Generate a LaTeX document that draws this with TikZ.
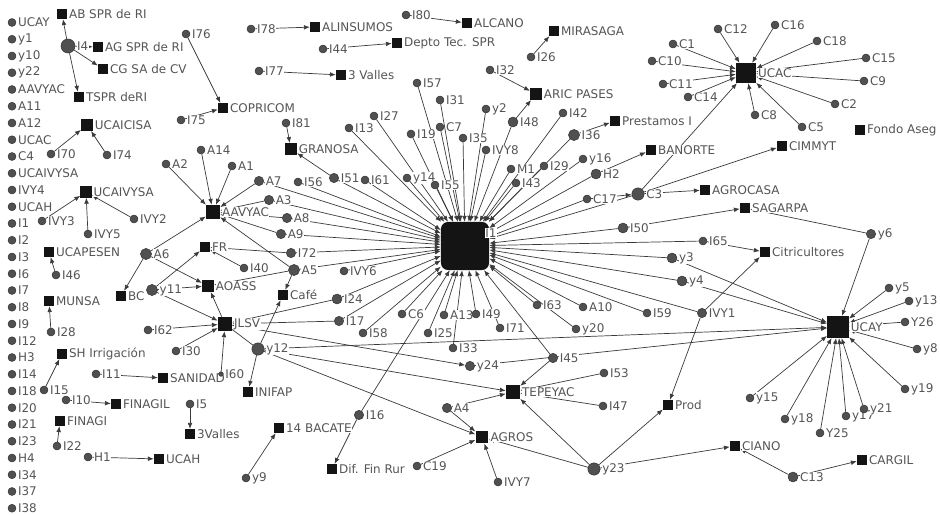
\documentclass[tikz,border=0pt]{standalone}
\usepackage{fontspec}
\setmainfont{DejaVu Sans}
\usetikzlibrary{arrows.meta,backgrounds}
\definecolor{nd}{HTML}{505050}
\definecolor{ndd}{HTML}{303030}
\definecolor{ln}{HTML}{3A3A3A}
\definecolor{txt}{HTML}{555555}
\tikzset{
  act/.style={circle,fill=nd,draw=ndd,line width=0.4pt,inner sep=0pt,minimum size=6.8pt},
  bigact/.style={act,minimum size=9.5pt},
  org/.style={rectangle,fill=black!92,inner sep=0pt,minimum size=8.5pt},
  ar/.style={-{Latex[length=5pt,width=4pt]},draw=ln,line width=0.6pt},
  plain/.style={draw=ln,line width=0.6pt},
  every label/.style={font=\fontsize{10.2}{11}\selectfont,text=txt,fill=white,inner sep=0.4pt},
}

\begin{document}
\begin{tikzpicture}[x=0.3mm,y=-0.3mm,label distance=1pt]
\useasboundingbox (0,0) rectangle (940,514);
\foreach \lab [count=\i from 0] in {UCAY,y1,y10,y22,AAVYAC,A11,A12,UCAC,C4,UCAIVYSA,IVY4,UCAH,I1,I2,I3,I6,I7,I8,I9,I12,H3,I14,I18,I20,I21,I23,H4,I34,I37,I38}
  \node[act,label=right:\lab] (iso\i) at (12,{22.5+16.75*\i}) {};

\node[org,minimum size=41pt,rounded corners=6pt,label={[xshift=-5pt,yshift=11pt]right:I1}] (hub) at (465,246) {};
\node[org,minimum size=17pt,label=right:UCAC] (ucac) at (746,73) {};
\node[org,minimum size=18.5pt,label=right:UCAY] (ucay) at (838,327) {};

\node[org,label=right:AB SPR de RI] (abspr) at (62,14) {};
\node[org,label=right:AG SPR de RI] (agspr) at (98,47) {};
\node[org,label=right:CG SA de CV] (cgsa) at (103,69) {};
\node[org,label=right:TSPR deRI] (tspr) at (79,97) {};
\node[org,label=right:COPRICOM] (copricom) at (223,108) {};
\node[org,minimum size=10pt,label=right:UCAICISA] (ucaicisa) at (87,125) {};
\node[org,minimum size=9.5pt,label=right:UCAIVYSA] (ucaivysa) at (86,192) {};
\node[org,label=right:UCAPESEN] (ucapesen) at (49,252) {};
\node[org,label=right:MUNSA] (munsa) at (49,301) {};
\node[org,label=right:BC] (bc) at (121,296) {};
\node[org,label=right:FR] (fr) at (205,247) {};
\node[org,minimum size=10pt,label=right:AOASS] (aoass) at (208,286) {};
\node[org,minimum size=12pt,label=right:JLSV] (jlsv) at (225,324) {};
\node[org,label=right:SH Irrigación] (shirr) at (62,354) {};
\node[org,label=right:SANIDAD] (sanidad) at (163,378) {};
\node[org,label=right:FINAGIL] (finagil) at (116,404) {};
\node[org,label=right:FINAGI] (finagi) at (60,421) {};
\node[org,label=right:UCAH] (ucah) at (159,459) {};
\node[org,label=right:3Valles] (valles) at (190,434) {};
\node[org,label=right:INIFAP] (inifap) at (248,392) {};
\node[org,label=right:14 BACATE] (bacate) at (279,428) {};
\node[org,label=right:Dif. Fin Rur] (difin) at (332,469) {};
\node[org,label=right:Café] (cafe) at (283,295) {};
\node[org,minimum size=12pt,label=right:AAVYAC] (aavyac) at (213,212) {};
\node[org,minimum size=10pt,label=right:GRANOSA] (granosa) at (291,149) {};
\node[org,label=right:ALINSUMOS] (alinsumos) at (315,27) {};
\node[org,label=right:ALCANO] (alcano) at (467,23) {};
\node[org,label=right:Depto Tec. SPR] (depto) at (397,43) {};
\node[org,label=right:3 Valles] (tresvalles) at (341,75) {};
\node[org,label=right:MIRASAGA] (mirasaga) at (554,31) {};
\node[org,minimum size=10pt,label=right:ARIC PASES] (aric) at (536,94) {};
\node[org,label=right:Prestamos I] (prestamos) at (615,121) {};
\node[org,label=right:BANORTE] (banorte) at (651,150) {};
\node[org,label=right:Fondo Aseg] (fondo) at (860,130) {};
\node[org,label=right:CIMMYT] (cimmyt) at (782,146) {};
\node[org,label=right:AGROCASA] (agrocasa) at (705,190) {};
\node[org,label=right:SAGARPA] (sagarpa) at (745,208) {};
\node[org,label=right:Citricultores] (citri) at (765,252) {};
\node[org,minimum size=12pt,label=right:TEPEYAC] (tepeyac) at (513,392) {};
\node[org,minimum size=11pt,label=right:AGROS] (agros) at (482,437) {};
\node[org,label=right:Prod] (prod) at (668,405) {};
\node[org,label=right:CIANO] (ciano) at (735,446) {};
\node[org,label=right:CARGIL] (cargil) at (862,460) {};

\node[act,minimum size=12pt,label=right:I4] (I4) at (68,46) {};
\node[act,label=right:I76] (I76) at (186,34) {};
\node[act,label=right:I75] (I75) at (181,120) {};
\node[act,label=right:I70] (I70) at (51,154) {};
\node[act,label=right:I74] (I74) at (107,155) {};
\node[act,label=right:IVY3] (IVY3) at (42,221) {};
\node[act,label=right:IVY5] (IVY5) at (88,234) {};
\node[act,label=right:IVY2] (IVY2) at (134,219) {};
\node[act,label=right:I46] (I46) at (56,275) {};
\node[act,label=right:I28] (I28) at (51,332) {};
\node[bigact,label=right:A6] (A6) at (146,254) {};
\node[bigact,label=right:y11] (y11) at (152,290) {};
\node[act,label=right:I62] (I62) at (148,330) {};
\node[act,label=right:I15] (I15) at (44,390) {};
\node[act,label=right:I11] (I11) at (96,374) {};
\node[act,label=right:I10] (I10) at (66,400) {};
\node[act,label=right:I22] (I22) at (57,446) {};
\node[act,label=right:H1] (H1) at (88,457) {};
\node[act,label=right:I5] (I5) at (190,404) {};
\node[act,label=right:I30] (I30) at (176,351) {};
\node[act,minimum size=4pt,label=right:I60] (I60) at (221,374) {};
\node[act,label=right:A2] (A2) at (166,164) {};
\node[act,label=right:A14] (A14) at (201,150) {};
\node[act,label=right:A1] (A1) at (232,166) {};
\node[bigact,minimum size=8pt,label=right:A7] (A7) at (259,181) {};
\node[act,label=right:I56] (I56) at (298,182) {};
\node[bigact,minimum size=8pt,label=right:I51] (I51) at (334,178) {};
\node[act,label=right:I61] (I61) at (365,180) {};
\node[act,label=right:y14] (y14) at (407,178) {};
\node[act,label=right:I55] (I55) at (435,185) {};
\node[bigact,minimum size=8pt,label=right:A3] (A3) at (269,200) {};
\node[bigact,minimum size=8pt,label=right:A8] (A8) at (287,218) {};
\node[bigact,minimum size=8pt,label=right:A9] (A9) at (281,234) {};
\node[bigact,minimum size=8pt,label=right:I72] (I72) at (291,253) {};
\node[bigact,label=right:A5] (A5) at (294,270) {};
\node[act,label=right:IVY6] (IVY6) at (344,271) {};
\node[act,label=right:I40] (I40) at (244,268) {};
\node[bigact,minimum size=8.5pt,label=right:I24] (I24) at (337,299) {};
\node[bigact,minimum size=8pt,label=right:I17] (I17) at (339,321) {};
\node[act,label=right:I58] (I58) at (363,333) {};
\node[act,label=right:C6] (C6) at (402,314) {};
\node[act,label=right:I25] (I25) at (428,333) {};
\node[act,label=right:A13] (A13) at (444,315) {};
\node[act,label=right:I49] (I49) at (476,314) {};
\node[act,label=right:I71] (I71) at (500,328) {};
\node[act,label=right:I33] (I33) at (453,348) {};
\node[bigact,minimum size=10.5pt,label=right:y12] (y12) at (258,349) {};
\node[act,label=right:y9] (y9) at (246,478) {};
\node[bigact,minimum size=8pt,label=right:I16] (I16) at (359,415) {};
\node[act,label=right:C19] (C19) at (417,466) {};
\node[bigact,minimum size=8pt,label=right:A4] (A4) at (447,408) {};
\node[act,label=right:IVY7] (IVY7) at (498,482) {};
\node[bigact,minimum size=8pt,label=right:y24] (y24) at (470,366) {};
\node[bigact,minimum size=8pt,label=right:I45] (I45) at (553,358) {};
\node[act,label=right:I53] (I53) at (604,373) {};
\node[act,label=right:I47] (I47) at (603,406) {};
\node[bigact,minimum size=10.5pt,label=right:y23] (y23) at (594,469) {};
\node[bigact,minimum size=8.5pt,label=right:C13] (C13) at (793,477) {};
\node[act,label=right:I78] (I78) at (251,29) {};
\node[act,label=right:I80] (I80) at (406,15) {};
\node[act,label=right:I44] (I44) at (323,49) {};
\node[act,label=right:I77] (I77) at (259,71) {};
\node[act,label=right:I81] (I81) at (286,123) {};
\node[act,label=right:I57] (I57) at (417,83) {};
\node[act,label=right:I31] (I31) at (440,100) {};
\node[act,label=right:I27] (I27) at (374,116) {};
\node[act,label=right:I13] (I13) at (349,128) {};
\node[act,label=right:C7] (C7) at (440,127) {};
\node[act,label=right:I19] (I19) at (411,134) {};
\node[act,label=right:I35] (I35) at (463,138) {};
\node[act,label=right:I26] (I26) at (531,57) {};
\node[act,label=right:I32] (I32) at (490,70) {};
\node[act,label=right:y2] (y2) at (486,109) {};
\node[bigact,minimum size=8.5pt,label=right:I48] (I48) at (513,122) {};
\node[act,label=right:I42] (I42) at (563,113) {};
\node[bigact,label=right:I36] (I36) at (574,135) {};
\node[act,label=right:IVY8] (IVY8) at (486,150) {};
\node[act,label=right:y16] (y16) at (583,159) {};
\node[act,label=right:M1] (M1) at (511,169) {};
\node[act,label=right:I29] (I29) at (544,166) {};
\node[act,label=right:I43] (I43) at (516,183) {};
\node[bigact,minimum size=8.5pt,label=right:H2] (H2) at (596,174) {};
\node[act,label=right:C17] (C17) at (587,199) {};
\node[bigact,minimum size=10.5pt,label=right:C3] (C3) at (638,194) {};
\node[bigact,minimum size=8.5pt,label=right:I50] (I50) at (623,228) {};
\node[bigact,minimum size=8.5pt,label=right:y3] (y3) at (672,258) {};
\node[bigact,minimum size=8.5pt,label=right:y4] (y4) at (682,281) {};
\node[act,label=right:I63] (I63) at (537,305) {};
\node[act,label=right:A10] (A10) at (583,307) {};
\node[act,label=right:I59] (I59) at (647,313) {};
\node[act,label=right:y20] (y20) at (576,329) {};
\node[act,label=right:I65] (I65) at (703,241) {};
\node[bigact,minimum size=8pt,label=right:IVY1] (IVY1) at (702,313) {};
\node[bigact,minimum size=8pt,label=right:y6] (y6) at (871,234) {};
\node[act,label=right:y5] (y5) at (889,288) {};
\node[act,label=right:y13] (y13) at (909,301) {};
\node[act,label=right:Y26] (Y26) at (905,322) {};
\node[act,label=right:y8] (y8) at (917,349) {};
\node[act,label=right:y19] (y19) at (905,389) {};
\node[act,label=right:y15] (y15) at (750,398) {};
\node[act,label=right:y18] (y18) at (785,419) {};
\node[act,label=right:Y25] (Y25) at (820,433) {};
\node[act,label=right:y17] (y17) at (846,416) {};
\node[act,label=right:y21] (y21) at (864,409) {};
\node[act,label=right:C1] (C1) at (673,44) {};
\node[act,label=right:C10] (C10) at (652,61) {};
\node[act,label=right:C11] (C11) at (663,84) {};
\node[act,label=right:C14] (C14) at (688,97) {};
\node[act,label=right:C12] (C12) at (718,29) {};
\node[act,label=right:C16] (C16) at (775,25) {};
\node[act,label=right:C18] (C18) at (817,41) {};
\node[act,label=right:C15] (C15) at (866,58) {};
\node[act,label=right:C9] (C9) at (864,81) {};
\node[act,label=right:C2] (C2) at (835,104) {};
\node[act,label=right:C5] (C5) at (802,127) {};
\node[act,label=right:C8] (C8) at (755,115) {};

\begin{scope}[on background layer]
\foreach \s in {I57,I31,I27,I13,C7,I19,I35,y2,IVY8,I48,I42,I36,M1,I29,I43,y16,H2,C17,C3,I50,I65,y3,y4,IVY1,I59,A10,I63,y20,I45,I71,I49,A13,I33,I25,C6,I58,I17,I24,IVY6,A5,I72,A9,A8,A3,A7,I56,I51,I61,y14,I55,I16}
  \draw[ar] (\s) -- (hub);
\foreach \s in {C1,C10,C11,C14,C12,C16,C18,C15,C9,C2,C5,C8,C3}
  \draw[ar] (\s) -- (ucac);
\foreach \s in {y3,y4,y5,y13,Y26,y8,y19,y15,y18,Y25,y17,y21,y6,y12,y24}
  \draw[ar] (\s) -- (ucay);
\foreach \s in {A2,A14,A1,A7,A3,A8,A9,A5,A6}
  \draw[ar] (\s) -- (aavyac);
\draw[ar] (I4) -- (abspr);
\draw[ar] (I4) -- (agspr);
\draw[ar] (I4) -- (cgsa);
\draw[ar] (I4) -- (tspr);
\draw[ar] (I76) -- (copricom);
\draw[ar] (I75) -- (copricom);
\draw[ar] (I70) -- (ucaicisa);
\draw[ar] (I74) -- (ucaicisa);
\draw[ar] (IVY3) -- (ucaivysa);
\draw[ar] (IVY5) -- (ucaivysa);
\draw[ar] (IVY2) -- (ucaivysa);
\draw[ar] (I46) -- (ucapesen);
\draw[ar] (I28) -- (munsa);
\draw[ar] (A6) -- (bc);
\draw[ar] (A6) -- (aoass);
\draw[ar] (y11) -- (fr);
\draw[ar] (y11) -- (aoass);
\draw[ar] (y11) -- (jlsv);
\draw[ar] (I62) -- (jlsv);
\draw[ar] (I30) -- (jlsv);
\draw[ar] (I60) -- (jlsv);
\draw[ar] (jlsv) -- (aoass);
\draw[ar] (A5) -- (aoass);
\draw[ar] (I40) -- (fr);
\draw[ar] (I72) -- (fr);
\draw[ar] (I24) -- (jlsv);
\draw[ar] (I17) -- (jlsv);
\draw[plain] (jlsv) -- (y12);
\draw[ar] (jlsv) -- (y24);
\draw[ar] (y12) -- (cafe);
\draw[ar] (A5) -- (cafe);
\draw[ar] (y12) -- (inifap);
\draw[ar] (y12) -- (tepeyac);
\draw[ar] (y12) -- (agros);
\draw[ar] (I15) -- (shirr);
\draw[ar] (I11) -- (sanidad);
\draw[ar] (I10) -- (finagil);
\draw[ar] (I22) -- (finagi);
\draw[ar] (H1) -- (ucah);
\draw[ar] (I5) -- (valles);
\draw[ar] (y9) -- (bacate);
\draw[ar] (I16) -- (difin);
\draw[ar] (C19) -- (agros);
\draw[ar] (A4) -- (agros);
\draw[ar] (A4) -- (tepeyac);
\draw[ar] (IVY7) -- (agros);
\draw[ar] (y23) -- (tepeyac);
\draw[ar] (y23) -- (agros);
\draw[ar] (y23) -- (prod);
\draw[ar] (y23) -- (ciano);
\draw[ar] (I45) -- (tepeyac);
\draw[ar] (I53) -- (tepeyac);
\draw[ar] (I47) -- (tepeyac);
\draw[ar] (C13) -- (cargil);
\draw[ar] (C13) -- (ciano);
\draw[ar] (I78) -- (alinsumos);
\draw[ar] (I80) -- (alcano);
\draw[ar] (I44) -- (depto);
\draw[ar] (I77) -- (tresvalles);
\draw[ar] (I81) -- (granosa);
\draw[ar] (I51) -- (granosa);
\draw[ar] (I26) -- (mirasaga);
\draw[ar] (I32) -- (aric);
\draw[ar] (I48) -- (aric);
\draw[ar] (I36) -- (prestamos);
\draw[ar] (H2) -- (banorte);
\draw[ar] (C3) -- (cimmyt);
\draw[ar] (C3) -- (agrocasa);
\draw[ar] (C17) -- (C3);
\draw[ar] (I50) -- (sagarpa);
\draw[ar] (y6) -- (sagarpa);
\draw[ar] (I65) -- (citri);
\draw[ar] (IVY1) -- (citri);
\draw[ar] (IVY1) -- (prod);
\end{scope}
\end{tikzpicture}
\end{document}
